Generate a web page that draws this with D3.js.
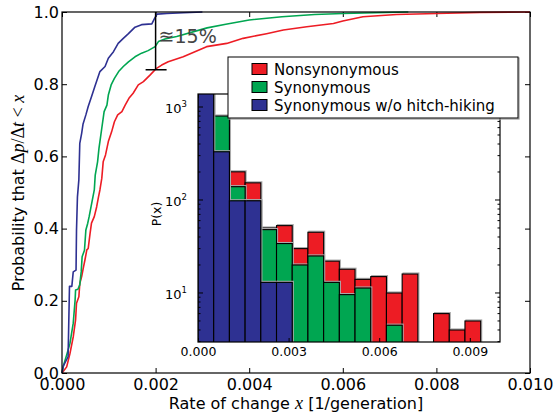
<!DOCTYPE html>
<html>
<head>
<meta charset="utf-8">
<script src="https://cdn.jsdelivr.net/npm/d3@7"></script>
<style>
  body { margin: 0; background: #fff; }
  text { font-family: 'DejaVu Sans', sans-serif; }
</style>
</head>
<body>
<svg id="chart" width="556" height="413"></svg>
<script>
// empirical CDFs: [rate of change, probability]
let nonsynCdf = [[0, 0], [0.0001, 0.017], [0.00017, 0.054], [0.00024, 0.1], [0.00029, 0.147], [0.00031, 0.193],
  [0.00036, 0.211], [0.00038, 0.248], [0.00042, 0.267], [0.00046, 0.294], [0.00049, 0.313], [0.00053, 0.341],
  [0.00056, 0.345], [0.0006, 0.387], [0.00063, 0.415], [0.00069, 0.433], [0.00074, 0.46], [0.00078, 0.488],
  [0.00081, 0.507], [0.00085, 0.539], [0.00088, 0.585], [0.00093, 0.604], [0.00099, 0.641], [0.00106, 0.668],
  [0.00112, 0.696], [0.00119, 0.715], [0.00128, 0.724], [0.00135, 0.742], [0.00143, 0.761], [0.00152, 0.775],
  [0.00163, 0.798], [0.00174, 0.807], [0.00188, 0.825], [0.00202, 0.844], [0.00213, 0.853], [0.00227, 0.862],
  [0.00259, 0.876], [0.00309, 0.904], [0.00352, 0.913], [0.00387, 0.927], [0.00437, 0.94], [0.00473, 0.95],
  [0.00523, 0.959], [0.0058, 0.968], [0.006, 0.975], [0.00643, 0.987], [0.00715, 0.993], [0.008, 0.996],
  [0.00893, 0.999], [0.01, 1.0]];
let synCdf = [[0, 0], [0.00003, 0.02], [0.0001, 0.05], [0.00017, 0.082], [0.00024, 0.138], [0.00028, 0.202],
  [0.00029, 0.23], [0.00034, 0.232], [0.00038, 0.244], [0.00041, 0.28], [0.00043, 0.322], [0.00048, 0.34],
  [0.00051, 0.396], [0.00055, 0.415], [0.00058, 0.433], [0.00062, 0.46], [0.00069, 0.507], [0.00071, 0.548],
  [0.00076, 0.585], [0.00079, 0.622], [0.00085, 0.678], [0.0009, 0.724], [0.00096, 0.742], [0.00099, 0.77],
  [0.00105, 0.798], [0.00112, 0.816], [0.00121, 0.835], [0.00131, 0.849], [0.00142, 0.862], [0.00156, 0.876],
  [0.0017, 0.886], [0.00184, 0.893], [0.00199, 0.904], [0.00206, 0.918], [0.0022, 0.925], [0.00245, 0.932],
  [0.0031, 0.956], [0.0035, 0.966], [0.004, 0.978], [0.0047, 0.987], [0.0054, 0.993], [0.006, 0.996],
  [0.0074, 1.0]];
let synNoHitchCdf = [[0, 0], [0.00003, 0.02], [0.00013, 0.045], [0.00016, 0.24], [0.00021, 0.24], [0.00024, 0.28],
  [0.0003, 0.285], [0.00031, 0.396], [0.00033, 0.488], [0.00036, 0.535], [0.00038, 0.636], [0.00042, 0.664],
  [0.00045, 0.69], [0.00051, 0.715], [0.00056, 0.738], [0.00063, 0.765], [0.0007, 0.793], [0.00081, 0.835],
  [0.00092, 0.849], [0.00099, 0.872], [0.0011, 0.89], [0.0012, 0.913], [0.00131, 0.927], [0.00142, 0.94],
  [0.00156, 0.958], [0.0017, 0.965], [0.00192, 0.967], [0.00197, 0.98], [0.00203, 0.994], [0.00224, 0.996],
  [0.0026, 0.998], [0.003, 1.0]];

// inset histogram, bins of equal width starting at 0
let binWidth = 0.00052;
let nonsynCounts = [1500, 600, 201, 153, 50, 53, 30, 45, 22, 18, 14, 15, 10, 16, 0, 6, 4, 5];
let synCounts = [1500, 800, 139, 98, 48, 34, 20, 25, 13, 9.6, 11.3, 0, 4.5, 0, 0, 0, 0, 0];
let synNoHitchCounts = [1500, 330, 98, 98, 13, 13, 0, 0, 0, 0, 0, 0, 0, 0, 0, 0, 0, 0];

let mainXTicks = [0, 0.002, 0.004, 0.006, 0.008, 0.010];
let mainYTicks = [0, 0.2, 0.4, 0.6, 0.8, 1.0];
let insetXTicks = [0, 0.003, 0.006, 0.009];
let insetYTicks = [10, 100, 1000];

let legendLabels = ['Nonsynonymous', 'Synonymous', 'Synonymous w/o hitch-hiking'];
let colors = {Nonsynonymous: '#ed1c24', Synonymous: '#00a651', 'Synonymous w/o hitch-hiking': '#2e3192'};

let svg = d3.select('#chart');

let x = d3.scaleLinear().domain([0, 0.01]).range([62, 530]);
let y = d3.scaleLinear().domain([0, 1]).range([373, 12]);

svg.append('g')
  .attr('transform', 'translate(0,373)')
  .call(d3.axisBottom(x).tickValues(mainXTicks).tickFormat(d3.format('.3f')).tickSizeInner(-5).tickSizeOuter(0).tickPadding(6))
  .call(g => g.select('.domain').remove())
  .call(g => g.selectAll('text').attr('font-size', 16).attr('font-family', 'DejaVu Sans'));
svg.append('g')
  .attr('transform', 'translate(0,12)')
  .call(d3.axisTop(x).tickValues(mainXTicks).tickFormat('').tickSizeInner(-5).tickSizeOuter(0))
  .call(g => g.select('.domain').remove());
svg.append('g')
  .attr('transform', 'translate(62,0)')
  .call(d3.axisLeft(y).tickValues(mainYTicks).tickFormat(d3.format('.1f')).tickSizeInner(-5).tickSizeOuter(0).tickPadding(3))
  .call(g => g.select('.domain').remove())
  .call(g => g.selectAll('text').attr('font-size', 16).attr('font-family', 'DejaVu Sans'));
svg.append('g')
  .attr('transform', 'translate(530,0)')
  .call(d3.axisRight(y).tickValues(mainYTicks).tickFormat('').tickSizeInner(-5).tickSizeOuter(0))
  .call(g => g.select('.domain').remove());

let line = d3.line().x(d => x(d[0])).y(d => y(d[1]));
[['Nonsynonymous', nonsynCdf], ['Synonymous', synCdf], ['Synonymous w/o hitch-hiking', synNoHitchCdf]]
  .forEach(([name, pts]) => {
    svg.append('path')
      .attr('d', line(pts))
      .attr('fill', 'none')
      .attr('stroke', colors[name])
      .attr('stroke-width', 1.6)
      .attr('stroke-linejoin', 'round');
  });

// gap marker at x = 0.002
let gapX = x(0.002);
svg.append('line').attr('x1', gapX).attr('x2', gapX).attr('y1', y(1)).attr('y2', y(0.84))
  .attr('stroke', '#000').attr('stroke-width', 1.5);
svg.append('line').attr('x1', gapX - 10).attr('x2', gapX + 11).attr('y1', y(0.84)).attr('y2', y(0.84))
  .attr('stroke', '#000').attr('stroke-width', 1.5);
svg.append('text')
  .attr('x', gapX + 3).attr('y', 43)
  .attr('font-family', 'Liberation Serif')
  .attr('font-size', 19)
  .attr('fill', '#444')
  .text('≊15%');

svg.append('rect').attr('x', 62).attr('y', 12).attr('width', 468).attr('height', 361)
  .attr('fill', 'none').attr('stroke', '#000').attr('stroke-width', 1.2);

let xl = svg.append('text')
  .attr('x', 296).attr('y', 409)
  .attr('text-anchor', 'middle')
  .attr('font-size', 16);
xl.append('tspan').text('Rate of change ');
xl.append('tspan').attr('font-family', 'Liberation Serif, serif').attr('font-style', 'italic').attr('font-size', 18).text('x');
xl.append('tspan').text(' [1/generation]');

let yl = svg.append('text')
  .attr('transform', 'translate(24,193) rotate(-90)')
  .attr('text-anchor', 'middle')
  .attr('font-size', 16);
yl.append('tspan').text('Probability that ');
yl.append('tspan').attr('font-family', 'Liberation Serif, serif').attr('font-size', 18).text('Δ');
yl.append('tspan').attr('font-family', 'Liberation Serif, serif').attr('font-style', 'italic').attr('font-size', 18).text('p');
yl.append('tspan').attr('font-family', 'Liberation Serif, serif').attr('font-size', 18).text('/Δ');
yl.append('tspan').attr('font-family', 'Liberation Serif, serif').attr('font-style', 'italic').attr('font-size', 18).text('t');
yl.append('tspan').attr('font-family', 'Liberation Serif, serif').attr('font-size', 18).text(' < ');
yl.append('tspan').attr('font-family', 'Liberation Serif, serif').attr('font-style', 'italic').attr('font-size', 18).text('x');

// inset
let ix = d3.scaleLinear().domain([0, 0.01]).range([198, 500]);
let iy = d3.scaleLog().domain([2.97, 1380]).range([342, 94]);

svg.append('rect').attr('x', 198).attr('y', 94).attr('width', 302).attr('height', 248).attr('fill', '#fff');
svg.append('clipPath').attr('id', 'insetClip')
  .append('rect').attr('x', 198).attr('y', 94).attr('width', 302).attr('height', 248);

let bars = svg.append('g').attr('clip-path', 'url(#insetClip)');
[['Nonsynonymous', nonsynCounts], ['Synonymous', synCounts], ['Synonymous w/o hitch-hiking', synNoHitchCounts]]
  .forEach(([name, counts]) => {
    let data = counts.map((c, i) => ({c, i})).filter(d => d.c > 0);
    let g = bars.append('g');
    g.selectAll('rect.shadow')
      .data(data)
      .enter()
      .append('rect')
      .attr('class', 'shadow')
      .attr('x', d => ix(d.i * binWidth) + 1)
      .attr('width', d => ix((d.i + 1) * binWidth) - ix(d.i * binWidth))
      .attr('y', d => iy(d.c) - 1)
      .attr('height', d => iy.range()[0] - iy(d.c) + 3)
      .attr('fill', 'none')
      .attr('stroke', '#aaa')
      .attr('stroke-width', 1.2);
    g.selectAll('rect.bar')
      .data(data)
      .enter()
      .append('rect')
      .attr('class', 'bar')
      .attr('x', d => ix(d.i * binWidth))
      .attr('width', d => ix((d.i + 1) * binWidth) - ix(d.i * binWidth))
      .attr('y', d => iy(d.c))
      .attr('height', d => iy.range()[0] - iy(d.c) + 2)
      .attr('fill', colors[name])
      .attr('stroke', '#000')
      .attr('stroke-width', 1.1);
  });

svg.append('g')
  .attr('transform', 'translate(0,342)')
  .call(d3.axisBottom(ix).tickValues(insetXTicks).tickFormat(d3.format('.3f')).tickSizeInner(-4).tickSizeOuter(0).tickPadding(5))
  .call(g => g.select('.domain').remove())
  .call(g => g.selectAll('text').attr('font-size', 12.5).attr('font-family', 'DejaVu Sans'));
svg.append('g')
  .attr('transform', 'translate(0,94)')
  .call(d3.axisTop(ix).tickValues(insetXTicks).tickFormat('').tickSizeInner(-4).tickSizeOuter(0))
  .call(g => g.select('.domain').remove());

let minorTicks = [];
[1, 10, 100, 1000].forEach(dec => d3.range(2, 10).forEach(k => {
  let v = dec * k;
  if (v > iy.domain()[0] && v < iy.domain()[1]) minorTicks.push(v);
}));
let tickG = svg.append('g').attr('stroke', '#000').attr('stroke-width', 1);
[[198, 1], [500, -1]].forEach(([x0, dir]) => {
  tickG.selectAll(null).data(insetYTicks).enter().append('line')
    .attr('x1', x0).attr('x2', x0 + dir * 5).attr('y1', d => iy(d)).attr('y2', d => iy(d));
  tickG.selectAll(null).data(minorTicks).enter().append('line')
    .attr('x1', x0).attr('x2', x0 + dir * 2.5).attr('y1', d => iy(d)).attr('y2', d => iy(d));
});

insetYTicks.forEach(v => {
  let t = svg.append('text')
    .attr('x', 187).attr('y', iy(v) + 6)
    .attr('text-anchor', 'end')
    .attr('font-size', 13);
  t.append('tspan').text('10');
  t.append('tspan').attr('font-size', 8.5).attr('dy', -6).text(String(Math.round(Math.log10(v))));
});

svg.append('text')
  .attr('transform', 'translate(161,214) rotate(-90)')
  .attr('text-anchor', 'middle')
  .attr('font-size', 12.5)
  .text('P(x)');

svg.append('rect').attr('x', 198).attr('y', 94).attr('width', 302).attr('height', 248)
  .attr('fill', 'none').attr('stroke', '#000').attr('stroke-width', 1.2);

// legend
let legend = svg.append('g').attr('class', 'legend');
legend.append('rect').attr('x', 229).attr('y', 58).attr('width', 290).attr('height', 61)
  .attr('fill', 'none').attr('stroke', '#999').attr('stroke-width', 1.2);
legend.append('rect').attr('x', 228).attr('y', 57).attr('width', 290).attr('height', 61)
  .attr('fill', '#fff').attr('stroke', '#000').attr('stroke-width', 1);
legendLabels.forEach((d, idx) => {
  let cy = 69 + idx * 18;
  legend.append('rect')
    .attr('x', 252).attr('y', cy - 5.5).attr('width', 15).attr('height', 11)
    .attr('fill', colors[d]).attr('stroke', '#000').attr('stroke-width', 1);
  legend.append('text')
    .attr('x', 274).attr('y', cy + 5.5)
    .attr('font-size', 15)
    .text(d);
});
</script>
</body>
</html>
